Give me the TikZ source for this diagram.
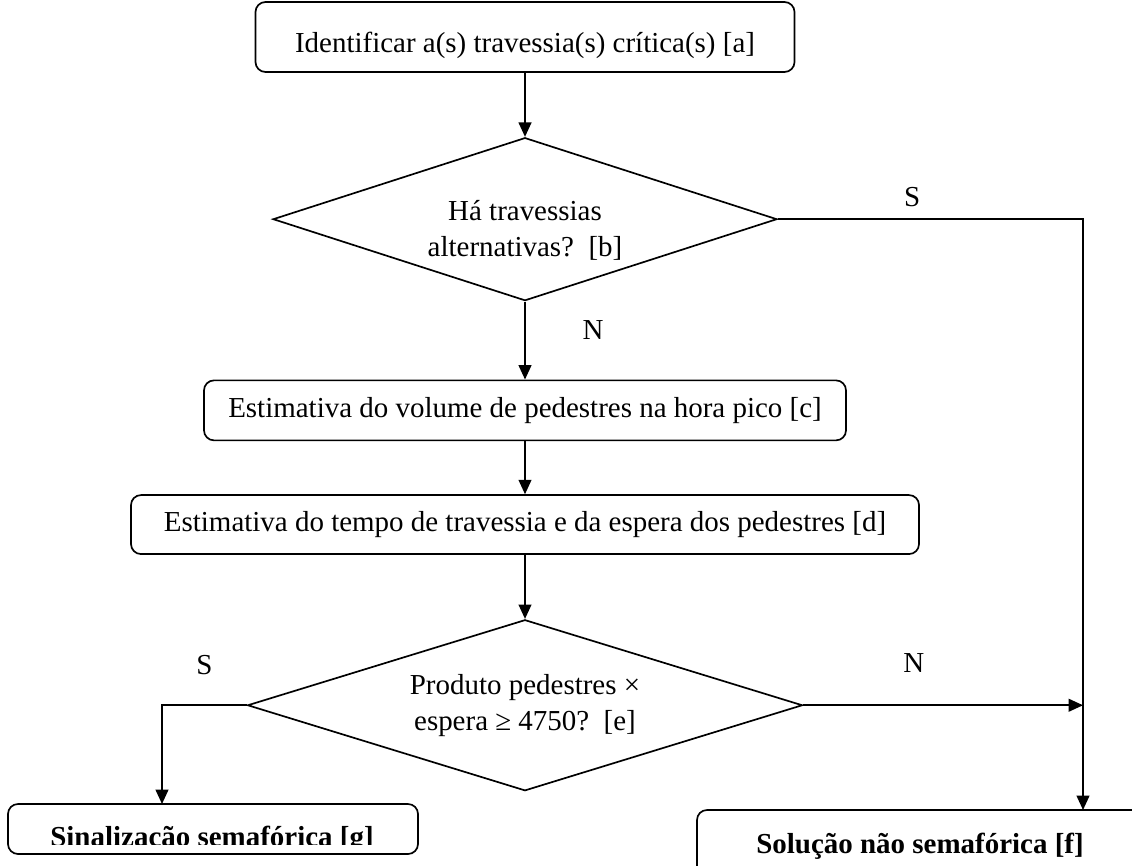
\documentclass[tikz,border=0pt]{standalone}
\usepackage{fontspec}
\setmainfont{Liberation Serif}
\usetikzlibrary{arrows.meta,positioning,shapes.geometric}

\begin{document}
\begin{tikzpicture}[node distance=1.6cm,>={Triangle[length=0.36cm,width=0.32cm]}]
    \tikzset{
      process/.style={draw,line width=1.2pt,rounded corners=0.25cm,align=center,
        inner sep=0pt,font=\fontsize{20.6}{25.5}\selectfont},
      decision/.style={draw,diamond,aspect=3,line width=1.2pt,align=center,
        inner sep=0pt,font=\fontsize{20.6}{25.5}\selectfont},
      outcome/.style={process,font=\fontsize{20.6}{25.5}\selectfont\bfseries},
      answer/.style={inner sep=0pt,font=\fontsize{20.6}{25.5}\selectfont},
      flow/.style={->,line width=1.2pt}
    }
    \useasboundingbox (0,0) rectangle (28.3,-21.625);
    \node[process,minimum width=13.475cm,minimum height=1.75cm,text height=0.78cm,
      text depth=0pt] (a) at (13.125,-0.925)
      {Identificar a(s) travessia(s) crítica(s) [a]};
    \node[decision,minimum width=12.6cm,minimum height=4.075cm,below=1.6cm of a] (b)
      {\smash{Há travessias}\rule{0pt}{1.05cm}\\alternativas?\ \ [b]};
    \node[process,minimum width=16.05cm,minimum height=1.5cm,below=1.95cm of b] (c)
      {Estimativa do volume de pedestres na hora pico [c]};
    \node[process,minimum width=19.7cm,minimum height=1.475cm,below=1.325cm of c] (d)
      {Estimativa do tempo de travessia e da espera dos pedestres [d]};
    \node[decision,minimum width=13.875cm,minimum height=4.275cm,below=1.6cm of d] (e)
      {Produto pedestres ×\\espera ≥ 4750?\ \ [e]};
    \node[process,minimum width=10.25cm,minimum height=1.25cm] (g) at (5.325,-20.725) {};
    \begin{scope}
      \clip (g.north west) rectangle (10.45,-21.1);
      \node[answer,font=\fontsize{20.6}{25.5}\selectfont\bfseries,anchor=base] (gtext)
        at (5.3,-21.15) {Sinalização semafórica [g]};
    \end{scope}
    \node[outcome,minimum width=11.15cm,minimum height=1.8cm] (f) at (23.0,-21.15)
      {Solução não semafórica [f]};
    \coordinate (fin) at (27.075,-20.25);
    \coordinate (merge) at (e.east -| fin);
    \coordinate (gin) at (4.05,-20.1);
    \draw[flow] (a) -- (b);
    \draw[flow] (b) -- node[answer,pos=0.37,xshift=1.7cm]{N} (c);
    \draw[flow] (c) -- (d);
    \draw[flow] (d) -- (e);
    \draw[flow] (b.east) -| node[answer,pos=0.22,above=0.3cm]{S} (fin);
    \draw[flow] (e.east) -- node[answer,pos=0.395,above=0.79cm]{N} (merge);
    \draw[flow] (e.west) -| node[answer,pos=0.25,above=0.74cm]{S} (gin);
\end{tikzpicture}
\end{document}
